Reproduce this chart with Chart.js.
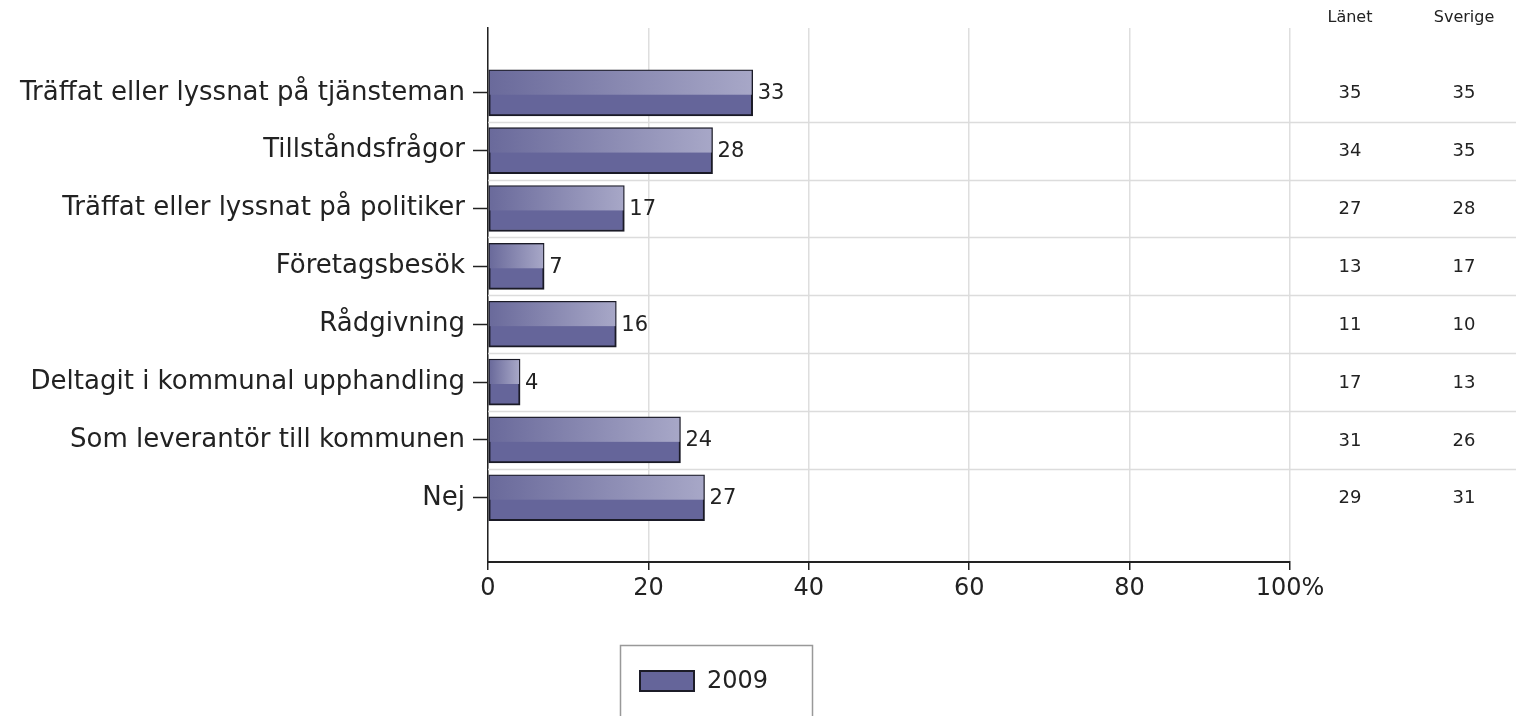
<!DOCTYPE html>
<html>
<head>
<meta charset="utf-8">
<script src="https://cdn.jsdelivr.net/npm/chart.js@4"></script>
<style>
  html, body { margin: 0; padding: 0; background: #fff; }
  #wrap { width: 1516px; height: 716px; }
</style>
</head>
<body>
<div id="wrap"><canvas id="grafica"></canvas></div>
<script>
// datos
const categorias = [
    "Träffat eller lyssnat på tjänsteman",
    "Tillståndsfrågor",
    "Träffat eller lyssnat på politiker",
    "Företagsbesök",
    "Rådgivning",
    "Deltagit i kommunal upphandling",
    "Som leverantör till kommunen",
    "Nej"
];
const valores2009 = [33, 28, 17, 7, 16, 4, 24, 27];
const lanet = [35, 34, 27, 13, 11, 17, 31, 29];
const sverige = [35, 35, 28, 17, 10, 13, 26, 31];
const tablaTitulos = ["Länet", "Sverige"];
const xTicks = [0, 20, 40, 60, 80, 100];

const fuente = "'DejaVu Sans', 'Liberation Sans', sans-serif";

// barras: mitad superior con degradado, valor a la derecha
const barrasPlugin = {
    id: 'barras',
    afterDatasetsDraw(chart) {
        const ctx = chart.ctx;
        const meta = chart.getDatasetMeta(0);
        meta.data.forEach((el, i) => {
            const top = el.y - el.height / 2;
            const left = Math.min(el.base, el.x) + 1;
            const right = Math.max(el.base, el.x) - 1;
            const g = ctx.createLinearGradient(left, 0, right, 0);
            g.addColorStop(0, '#6a6a9b');
            g.addColorStop(1, '#a7a7c7');
            ctx.save();
            ctx.fillStyle = g;
            ctx.fillRect(left, top + 1, right - left, el.height * 0.52);
            ctx.fillStyle = '#222';
            ctx.font = "21px " + fuente;
            ctx.textBaseline = 'middle';
            ctx.textAlign = 'left';
            ctx.fillText(String(valores2009[i]), el.x + 5, el.y + 1);
            ctx.restore();
        });
    }
};

// tabla de la derecha, separadores y leyenda
const tablaPlugin = {
    id: 'tabla',
    beforeDatasetsDraw(chart) {
        const ctx = chart.ctx;
        const y = chart.scales.y;
        ctx.save();
        ctx.strokeStyle = '#dcdcdc';
        ctx.lineWidth = 1.5;
        for (let i = 0; i < categorias.length - 1; i++) {
            const py = Math.round(y.getPixelForValue(i + 0.5)) + 0.5;
            ctx.beginPath();
            ctx.moveTo(chart.chartArea.left, py);
            ctx.lineTo(chart.width, py);
            ctx.stroke();
        }
        ctx.restore();
    },
    afterDraw(chart) {
        const ctx = chart.ctx;
        const y = chart.scales.y;
        const cols = [1350, 1464];
        ctx.save();
        ctx.fillStyle = '#222';
        ctx.textAlign = 'center';
        ctx.textBaseline = 'middle';
        ctx.font = "16px " + fuente;
        tablaTitulos.forEach((t, c) => ctx.fillText(t, cols[c], 18));
        ctx.font = "18px " + fuente;
        [lanet, sverige].forEach((serie, c) => {
            serie.forEach((v, i) => ctx.fillText(String(v), cols[c], y.getPixelForValue(i) + 1));
        });

        // leyenda
        ctx.strokeStyle = '#999';
        ctx.lineWidth = 1.5;
        ctx.strokeRect(620.5, 645.5, 192, 80);
        ctx.fillStyle = '#65659a';
        ctx.fillRect(640, 671, 54, 20);
        ctx.strokeStyle = '#1c1c28';
        ctx.lineWidth = 2;
        ctx.strokeRect(640, 671, 54, 20);
        ctx.fillStyle = '#222';
        ctx.textAlign = 'left';
        ctx.font = "24px " + fuente;
        ctx.fillText(chart.data.datasets[0].label, 707, 682);
        ctx.restore();
    }
};

new Chart(document.getElementById('grafica'), {
    type: 'bar',
    data: {
        datasets: [{
            label: '2009',
            data: valores2009.map((v, i) => ({ x: v, y: i })),
            backgroundColor: '#65659a',
            borderColor: '#1a1a26',
            borderWidth: 2,
            borderSkipped: false,
            barThickness: 46
        }]
    },
    options: {
        indexAxis: 'y',
        responsive: true,
        maintainAspectRatio: false,
        animation: false,
        layout: { padding: { top: 28, right: 226, left: 0, bottom: 0 } },
        plugins: {
            legend: { display: false },
            tooltip: { enabled: false }
        },
        scales: {
            x: {
                type: 'linear',
                min: 0,
                max: 100,
                afterFit: (s) => { s.height = 154; },
                afterBuildTicks: (s) => { s.ticks = xTicks.map(v => ({ value: v })); },
                ticks: {
                    color: '#222',
                    font: { family: fuente, size: 24 },
                    padding: 4,
                    callback: (v) => v === 100 ? '100%' : String(v)
                },
                grid: { color: '#dedede', lineWidth: 1.5, tickColor: '#222', tickLength: 8, tickWidth: 1.5 },
                border: { color: '#222', width: 2 }
            },
            y: {
                type: 'linear',
                reverse: true,
                offset: false,
                min: -1.12,
                max: 8.11,
                afterFit: (s) => { s.width = 488; },
                afterBuildTicks: (s) => { s.ticks = categorias.map((c, i) => ({ value: i })); },
                ticks: {
                    color: '#222',
                    font: { family: fuente, size: 26 },
                    padding: 8,
                    callback: (v) => categorias[v] || ''
                },
                grid: { offset: false, drawOnChartArea: false, tickColor: '#222', tickLength: 15, tickWidth: 1.5 },
                border: { color: '#222', width: 1.5 }
            }
        }
    },
    plugins: [tablaPlugin, barrasPlugin]
});
</script>
</body>
</html>
